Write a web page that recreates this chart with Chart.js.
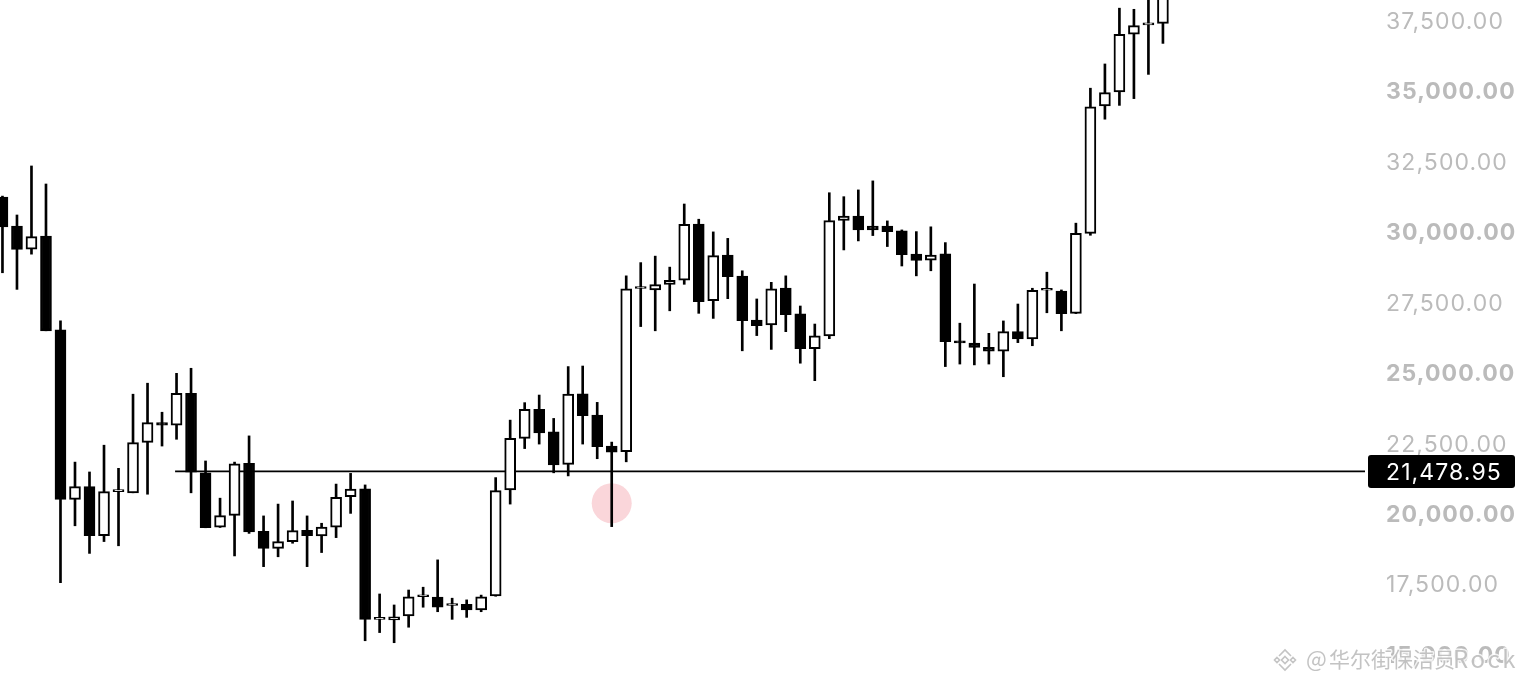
<!DOCTYPE html>
<html>
<head>
<meta charset="utf-8">
<script src="https://cdn.jsdelivr.net/npm/chart.js@4.4.1/dist/chart.umd.min.js"></script>
<style>
html, body { margin: 0; padding: 0; background: #fff; }
#wrap { width: 1538px; height: 690px; }
</style>
</head>
<body>
<div id="wrap"><canvas id="chart" width="1538" height="690"></canvas></div>
<script>
// weekly candles (oldest first)
const opens = [31220, 30190, 29370, 29830, 26500, 20490, 20940, 19200, 20760, 20720,
	22510, 23210, 23120, 24250, 21430, 19500, 19920, 21770, 19350, 18750,
	18990, 19390, 19190, 19500, 20580, 20860, 16230, 16210, 16350, 17030,
	17020, 16720, 16760, 16560, 17060, 20820, 22650, 23680, 22880, 21730,
	24230, 23480, 22380, 22180, 27970, 27920, 28120, 28270, 30260, 27540,
	29160, 28410, 26850, 26680, 27990, 27070, 25840, 26290, 30390, 30540,
	30190, 30190, 30020, 29190, 28980, 29200, 26080, 26030, 25880, 25750,
	26440, 26180, 27910, 27880, 27090, 29930, 34450, 34950, 37000, 37330, 37380];
const highs = [31250, 30580, 32320, 31680, 26820, 21810, 21460, 22410, 21590, 24220,
	24610, 23580, 24960, 25140, 21850, 20530, 21810, 22740, 19900, 20320,
	20430, 19900, 19640, 21030, 21410, 21000, 17130, 16740, 17270, 17370,
	18340, 16980, 16920, 17090, 21260, 23300, 23920, 24190, 23360, 25200,
	25220, 23930, 22520, 28420, 28890, 29120, 28730, 30970, 30430, 29980,
	29750, 28600, 27600, 28190, 28420, 27350, 26710, 31370, 31230, 31470,
	31790, 30370, 30050, 29990, 30160, 29600, 26740, 28130, 26380, 26820,
	27420, 27980, 28550, 27920, 30290, 35080, 35940, 37920, 37880, 38300, 38900];
const lows = [28530, 27940, 29190, 26470, 17530, 19550, 18570, 18990, 18840, 20720,
	20670, 22380, 22620, 20720, 19480, 19490, 18480, 19280, 18100, 18450,
	18930, 18100, 18600, 19130, 19990, 15470, 15760, 15400, 15950, 16660,
	16500, 16230, 16300, 16500, 17050, 20320, 22290, 22450, 21430, 21320,
	22450, 21930, 19520, 21820, 26620, 26470, 27180, 28120, 27090, 26910,
	27610, 25760, 26300, 25810, 26440, 25320, 24700, 26190, 29340, 29660,
	29850, 29460, 28770, 28420, 28600, 25200, 25290, 25260, 25290, 24840,
	26050, 25940, 27110, 26470, 27080, 29860, 33980, 34470, 34710, 35570, 36670];
const closes = [30160, 29360, 29810, 26470, 20490, 20940, 19200, 20760, 20800, 22500,
	23210, 23120, 24250, 21450, 19480, 19910, 21750, 19330, 18750, 18990,
	19380, 19200, 19500, 20560, 20850, 16230, 16270, 16320, 17030, 17080,
	16660, 16760, 16560, 17030, 20800, 22650, 23680, 22850, 21710, 24220,
	23460, 22360, 22160, 27960, 28000, 28110, 28260, 30250, 27500, 29140,
	28390, 26830, 26650, 27960, 27040, 25840, 26290, 30380, 30540, 30050,
	30050, 29990, 29170, 28970, 29160, 26080, 26040, 25880, 25750, 26440,
	26180, 27910, 27950, 27080, 29930, 34420, 34920, 36990, 37300, 37370, 38600];
const yTicks = [15000, 17500, 20000, 22500, 25000, 27500, 30000, 32500, 35000, 37500];
const lastPrice = 21478.95;
const priceLineFrom = 11.9;
const markerCandle = 42;
const markerPrice = 20350;
const watermarkName = '华尔街保洁员';

function fmt(v) {
	return v.toLocaleString('en-US', {minimumFractionDigits: 2, maximumFractionDigits: 2});
}

function drawLogo(c, cx, cy) {
	c.strokeStyle = 'rgba(190,190,190,0.9)';
	c.lineWidth = 1.6;
	let diamond = (x, y, r) => {
		c.beginPath();
		c.moveTo(x, y - r); c.lineTo(x + r, y); c.lineTo(x, y + r); c.lineTo(x - r, y);
		c.closePath();
		c.stroke();
	};
	diamond(cx, cy, 3.5);
	diamond(cx - 8, cy, 2.5);
	diamond(cx + 8, cy, 2.5);
	c.beginPath();
	c.moveTo(cx - 6, cy - 4); c.lineTo(cx, cy - 10); c.lineTo(cx + 6, cy - 4);
	c.moveTo(cx - 6, cy + 4); c.lineTo(cx, cy + 10); c.lineTo(cx + 6, cy + 4);
	c.stroke();
}

// the reference font is a bit wider than Inter, so space the glyphs out
const spacing = {
	id: 'spacing',
	beforeDraw(chart) { chart.ctx.letterSpacing = '1.1px'; }
};

const overlay = {
	id: 'overlay',
	afterDraw(chart) {
		let c = chart.ctx;
		let area = chart.chartArea;
		let y = chart.scales.y.getPixelForValue(lastPrice);
		c.save();
		// last price tag
		c.fillStyle = '#000';
		c.beginPath();
		c.roundRect(area.right + 3, y - 16.5, 147, 33, 3);
		c.fill();
		c.fillStyle = '#fff';
		c.font = '23px Inter';
		c.letterSpacing = '1.1px';
		c.textBaseline = 'middle';
		c.textAlign = 'left';
		c.fillText(fmt(lastPrice), area.right + 21, y + 2);
		// watermark
		drawLogo(c, 1285, 660);
		c.lineJoin = 'round';
		c.lineWidth = 3;
		c.strokeStyle = 'rgba(255,255,255,0.8)';
		c.fillStyle = 'rgba(185,185,185,0.85)';
		let parts = [['@', 1306, '22px', '0px'], [watermarkName, 1329, '21px', '0px'], ['Rock', 1453, '24px', '2.5px']];
		for (let [t, x, size, sp] of parts) {
			c.font = size + ' "Noto Sans CJK SC"';
			c.letterSpacing = sp;
			c.strokeText(t, x, 659);
			c.fillText(t, x, 659);
		}
		c.restore();
	}
};

let chart;
document.addEventListener('DOMContentLoaded', function() {
	let ctx = document.getElementById('chart').getContext('2d');
	let idx = opens.map((_, i) => i);
	let bodies = idx.map(i => ({x: i, y: [opens[i], closes[i]]}));
	let wicks = idx.map(i => ({x: i, y: [lows[i], highs[i]]}));
	let fills = idx.map(i => closes[i] >= opens[i] ? '#ffffff' : '#000000');

	chart = new Chart(ctx, {
		type: 'bar',
		data: {
			datasets: [
				{
					label: 'body',
					data: bodies,
					backgroundColor: fills,
					borderColor: '#000',
					borderWidth: 2,
					borderSkipped: false,
					barThickness: 11,
					minBarLength: 2,
					grouped: false,
					order: 0
				},
				{
					label: 'wick',
					data: wicks,
					backgroundColor: '#000',
					borderWidth: 0,
					barThickness: 2,
					grouped: false,
					order: 1
				},
				{
					type: 'line',
					label: 'last',
					data: [{x: priceLineFrom, y: lastPrice}, {x: 94, y: lastPrice}],
					borderColor: '#000',
					borderWidth: 1.7,
					pointRadius: 0,
					order: 2
				},
				{
					type: 'line',
					label: 'marker',
					data: [{x: markerCandle, y: markerPrice}],
					showLine: false,
					pointRadius: 20,
					pointHoverRadius: 20,
					pointBorderWidth: 0,
					pointBackgroundColor: '#fad6da',
					order: 3
				}
			]
		},
		options: {
			responsive: false,
			animation: false,
			devicePixelRatio: 1,
			layout: {padding: 0, autoPadding: false},
			plugins: {legend: {display: false}, tooltip: {enabled: false}},
			events: [],
			scales: {
				x: {
					type: 'linear',
					display: false,
					offset: false,
					min: -0.17,
					max: 93.93
				},
				y: {
					position: 'right',
					min: 13722,
					max: 38210,
					grid: {display: false, drawTicks: false},
					border: {display: false},
					afterBuildTicks: s => { s.ticks = yTicks.map(v => ({value: v})); },
					afterFit: s => { s.width = 173; s.paddingTop = 0; s.paddingBottom = 0; },
					ticks: {
						padding: 21,
						labelOffset: 2,
						color: '#bbbbbb',
						font: c => ({family: 'Inter', size: 23, weight: c.tick && c.tick.value % 5000 === 0 ? 'bold' : 'normal'}),
						callback: v => fmt(v)
					}
				}
			}
		},
		plugins: [spacing, overlay]
	});
});
</script>
</body>
</html>
